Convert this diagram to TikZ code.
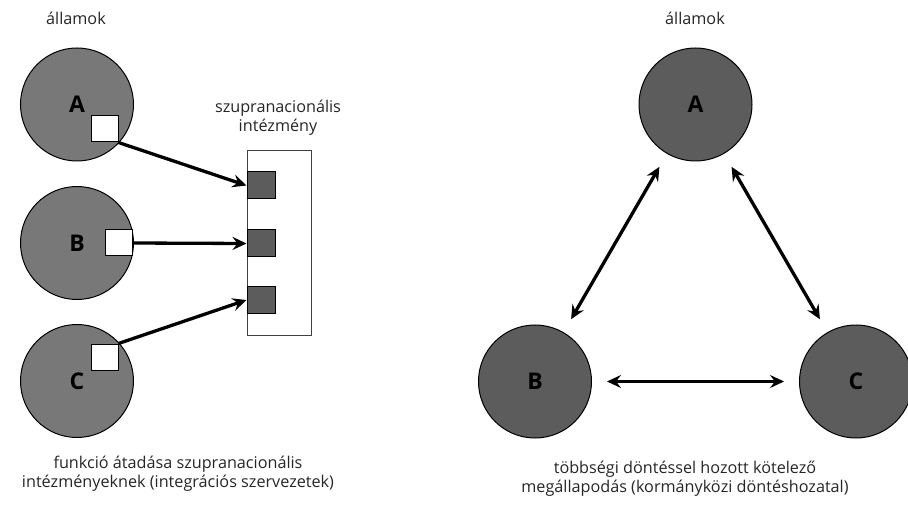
\documentclass[tikz,border=0pt]{standalone}
\usepackage{fontspec}
\setmainfont{Open Sans}
\usetikzlibrary{arrows.meta}
\definecolor{lightstate}{HTML}{787878}
\definecolor{darkstate}{HTML}{5C5C5C}
\tikzset{
  lstate/.style={circle, draw=black, line width=1pt, fill=lightstate, minimum size=113pt, inner sep=0pt, font=\fontsize{23}{25}\selectfont\bfseries},
  rstate/.style={circle, draw=black, line width=1pt, fill=darkstate, minimum size=113pt, inner sep=0pt, font=\fontsize{23}{25}\selectfont\bfseries},
  wsq/.style={draw=black, line width=1pt, fill=white, minimum width=27pt, minimum height=26pt, inner sep=0pt},
  dsq/.style={draw=black, line width=1pt, fill=darkstate, minimum width=28pt, minimum height=27pt, inner sep=0pt},
  inst/.style={draw=black!75, line width=1pt, fill=white, minimum width=64pt, minimum height=184pt, inner sep=0pt},
  lbl/.style={font=\fontsize{16.2}{19}\selectfont, align=center, text=black!85, inner sep=0pt},
  tip/.style={Stealth[length=14pt, width=13pt, inset=5pt]},
  arr/.style={line width=3.3pt, -{Stealth[length=14pt, width=13pt, inset=5pt]}},
  darr/.style={line width=3.3pt, {Stealth[length=14pt, width=13pt, inset=5pt]}-{Stealth[length=14pt, width=13pt, inset=5pt]}, shorten >=15pt, shorten <=15pt},
}
\begin{document}
\begin{tikzpicture}[x=1pt, y=-1pt]
\useasboundingbox (0,0) rectangle (908,505);
% left part
\node[lbl] (tl) at (76,18) {államok};
\node[lstate] (A) at (77,104.5) {A};
\node[lstate] (B) at (77,243) {B};
\node[lstate] (C) at (77,381) {C};
\node[wsq] (sa) at (104.5,129) {};
\node[wsq] (sb) at (118.5,243) {};
\node[wsq] (sc) at (104.5,357) {};
\node[lbl] (it) at (278,118) {szupranacionális\\intézmény};
\node[inst] (I) at (279,243) {};
\node[dsq] (d1) at (261,185.5) {};
\node[dsq] (d2) at (261,243.5) {};
\node[dsq] (d3) at (261,300) {};
\draw[arr] (sa.south east) -- (d1.west);
\draw[arr] (sb.east) -- (d2.west);
\draw[arr] (sc.north east) -- (d3.west);
\node[lbl] (bl) at (178,474) {funkció átadása szupranacionális\\intézményeknek (integrációs szervezetek)};
% right part
\node[lbl] (tr) at (695,18) {államok};
\node[rstate] (RA) at (695.5,104.5) {A};
\node[rstate] (RB) at (535,381.5) {B};
\node[rstate] (RC) at (856,381.5) {C};
\draw[darr] (RA) -- (RB);
\draw[darr] (RA) -- (RC);
\draw[darr] (RB) -- (RC);
\node[lbl] (br) at (685,479) {többségi döntéssel hozott kötelező\\megállapodás (kormányközi döntéshozatal)};
\end{tikzpicture}
\end{document}
